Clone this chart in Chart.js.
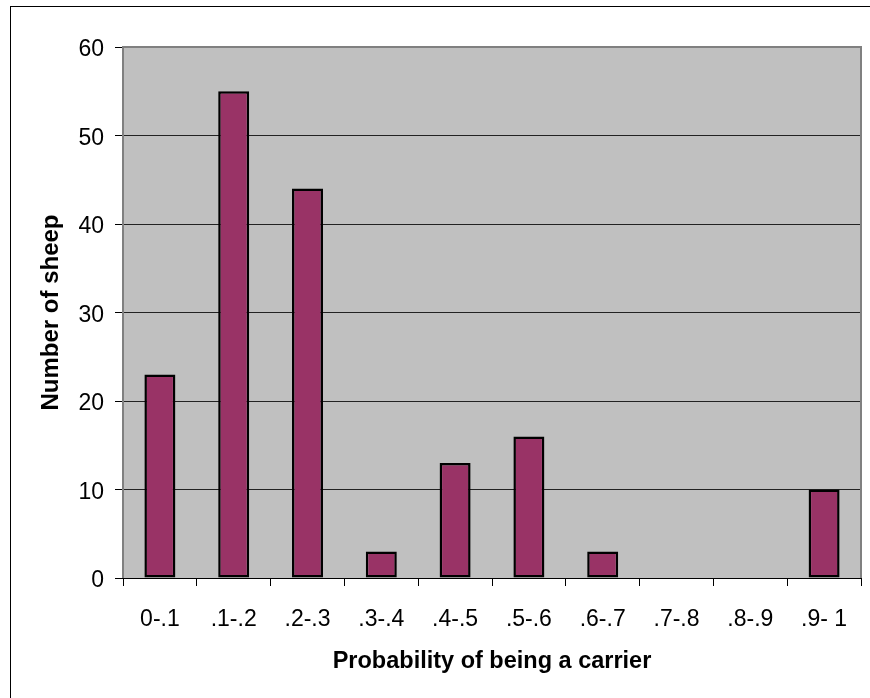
<!DOCTYPE html>
<html>
<head>
<meta charset="utf-8">
<script src="https://cdn.jsdelivr.net/npm/chart.js@4/dist/chart.umd.min.js"></script>
<style>
html,body{margin:0;padding:0;background:#fff;}
#wrap{width:870px;height:698px;position:relative;}
</style>
</head>
<body>
<div id="wrap"><canvas id="c" width="870" height="698"></canvas></div>
<script>
const categories = ["0-.1", ".1-.2", ".2-.3", ".3-.4", ".4-.5", ".5-.6", ".6-.7", ".7-.8", ".8-.9", ".9- 1"];
const sheepCounts = [23, 55, 44, 3, 13, 16, 3, 0, 0, 10];
const yTitle = "Number of sheep";
const xTitle = "Probability of being a carrier";
const yMin = 0, yMax = 60, yStep = 10;

const FONT = "'Liberation Sans', Arial, sans-serif";

const framePlugin = {
  id: 'frame',
  beforeDraw(chart) {
    const ctx = chart.ctx;
    const a = chart.chartArea;
    ctx.save();
    ctx.fillStyle = '#ffffff';
    ctx.fillRect(0, 0, chart.width, chart.height);
    ctx.strokeStyle = '#000000';
    ctx.lineWidth = 1;
    ctx.strokeRect(10.5, 6.5, 1000, 1000);
    ctx.fillStyle = '#C0C0C0';
    ctx.fillRect(a.left, a.top, a.right - a.left, a.bottom - a.top);
    ctx.restore();
  },
  afterDatasetsDraw(chart) {
    const ctx = chart.ctx;
    const a = chart.chartArea;
    ctx.save();
    ctx.strokeStyle = '#808080';
    ctx.lineWidth = 2;
    ctx.beginPath();
    ctx.moveTo(a.left, a.bottom);
    ctx.lineTo(a.left, a.top);
    ctx.lineTo(a.right, a.top);
    ctx.lineTo(a.right, a.bottom);
    ctx.stroke();
    ctx.strokeStyle = '#000000';
    ctx.lineWidth = 1;
    ctx.beginPath();
    ctx.moveTo(a.left - 8, a.bottom + 0.5);
    ctx.lineTo(a.right, a.bottom + 0.5);
    ctx.stroke();
    ctx.restore();
  }
};

new Chart(document.getElementById('c'), {
  type: 'bar',
  data: {
    labels: categories,
    datasets: [{
      data: sheepCounts,
      backgroundColor: '#993366',
      borderColor: '#000000',
      borderWidth: 2.5,
      borderSkipped: false,
      categoryPercentage: 1.0,
      barPercentage: 0.42
    }]
  },
  options: {
    responsive: false,
    animation: false,
    devicePixelRatio: 1,
    layout: { padding: { top: 47, right: 9, left: 0, bottom: 0 } },
    plugins: { legend: { display: false }, tooltip: { enabled: false } },
    scales: {
      x: {
        afterFit(s) { s.height = 120; },
        grid: { offset: true, drawOnChartArea: false, drawTicks: true, tickLength: 8, color: '#000000', lineWidth: 1 },
        border: { display: false },
        ticks: { color: '#000000', font: { family: FONT, size: 23 }, padding: 20, maxRotation: 0, autoSkip: false },
        title: { display: true, text: xTitle, color: '#000000', font: { family: FONT, size: 23.5, weight: 'bold' }, padding: { top: 0, bottom: 22 } }
      },
      y: {
        min: yMin, max: yMax,
        afterFit(s) { s.width = 123; },
        grid: { color: '#222222', lineWidth: 1, tickLength: 8, tickColor: '#000000', drawTicks: true },
        border: { display: false },
        ticks: { stepSize: yStep, color: '#000000', font: { family: FONT, size: 23 }, padding: 11, labelOffset: 3 },
        title: { display: true, text: yTitle, color: '#000000', font: { family: FONT, size: 24, weight: 'bold' }, padding: { top: 37, bottom: 0 } }
      }
    }
  },
  plugins: [framePlugin]
});
</script>
</body>
</html>
